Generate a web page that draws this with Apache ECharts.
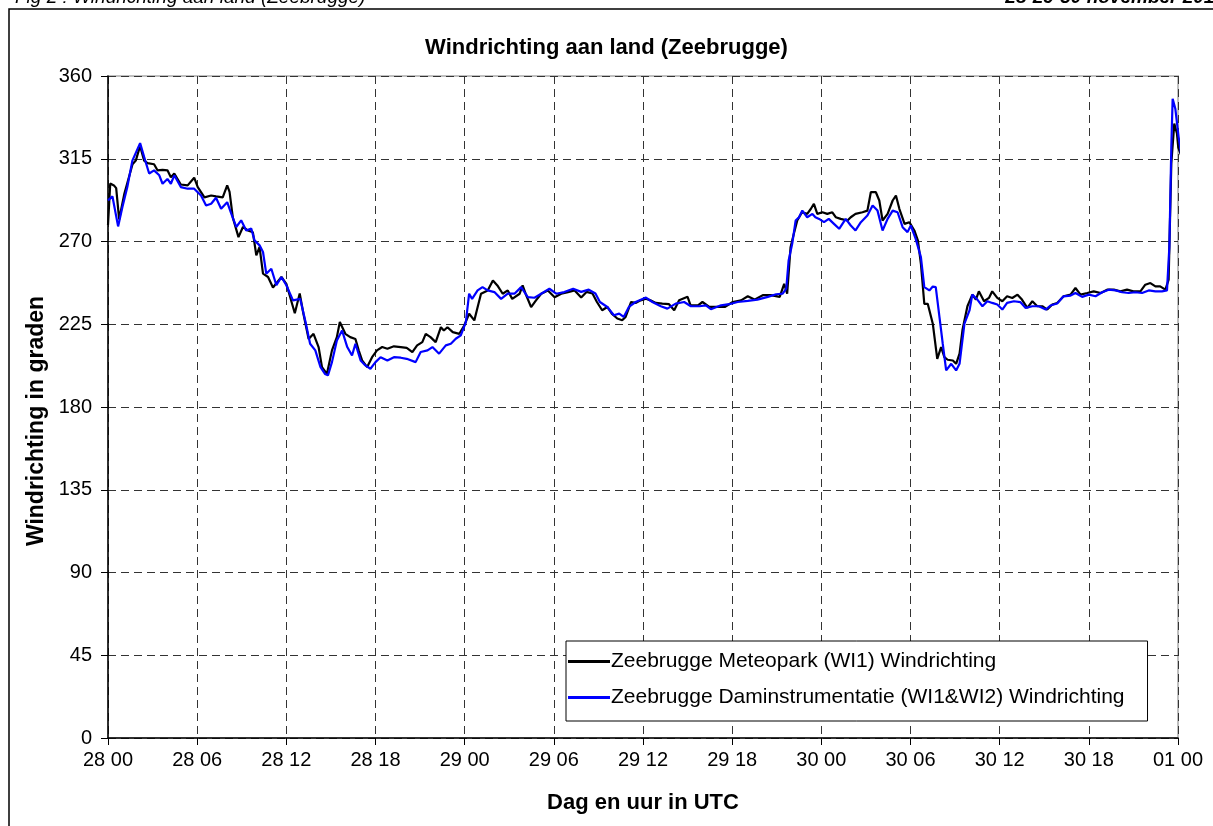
<!DOCTYPE html>
<html>
<head>
<meta charset="utf-8">
<script src="https://cdn.jsdelivr.net/npm/echarts@6/dist/echarts.min.js"></script>
<style>
html,body{margin:0;padding:0;background:#fff;}
#chart{width:1213px;height:826px;}
</style>
</head>
<body>
<div id="chart"></div>
<script>
// Tick labels (every 6 hours from 28 00 to 01 00)
const tickLabels = ['28 00','28 06','28 12','28 18','29 00','29 06','29 12','29 18','30 00','30 06','30 12','30 18','01 00'];
const seriesNames = ['Zeebrugge Meteopark (WI1) Windrichting','Zeebrugge Daminstrumentatie (WI1&WI2) Windrichting'];

// Black series: hours since 28 00 and wind direction (degrees)
const meteoHours = [0,0.15,0.4,0.55,0.75,1.1,1.65,1.87,2.16,2.43,2.66,3.1,3.33,3.67,4.0,4.23,4.46,4.9,5.36,5.8,6.04,6.49,6.94,7.27,7.72,8.02,8.18,8.4,8.78,9.08,9.41,9.75,9.98,10.2,10.43,10.77,11.1,11.67,12.0,12.57,12.9,13.15,13.5,13.83,14.17,14.4,14.73,15.07,15.4,15.6,15.97,16.3,16.65,16.87,17.1,17.44,17.77,18.1,18.45,18.8,19.24,19.7,20.1,20.48,20.8,21.15,21.38,21.7,22.05,22.4,22.6,22.84,23.2,23.64,23.97,24.3,24.65,24.87,25.1,25.55,25.9,26.2,26.56,26.9,27.2,27.7,27.9,28.1,28.47,28.8,29.15,29.6,30.05,30.5,30.95,31.4,31.84,32.2,32.6,32.9,33.25,33.6,33.9,34.27,34.6,34.83,35.2,35.5,35.84,36.2,36.5,36.86,37.3,37.75,38.1,38.43,39.0,39.2,39.7,40.0,40.46,40.9,41.5,42.04,42.6,43.05,43.5,44.06,44.6,45.2,45.5,45.7,45.93,46.15,46.38,46.7,47.05,47.3,47.5,47.73,48.07,48.4,48.74,48.97,49.3,49.76,49.98,50.3,50.77,51.1,51.33,51.67,51.9,52.12,52.46,52.8,53.02,53.25,53.6,53.92,54.26,54.5,54.7,54.93,55.16,55.5,55.8,56.06,56.28,56.5,56.85,57.07,57.3,57.5,57.83,58.16,58.4,58.6,58.95,59.28,59.5,59.84,60.18,60.5,60.85,61.2,61.5,61.86,62.2,62.53,62.87,63.2,63.54,63.87,64.3,64.77,65.1,65.44,65.9,66.33,66.8,67.23,67.68,68.13,68.57,69.0,69.47,69.8,70.14,70.48,70.8,71.15,71.37,71.55,71.75,71.93,72.02,72.25];
const meteoValues = [279,301.5,300.5,299,282,296,312,314,322,314,312.6,312,308.7,309,308.7,305,307,301,300.5,304.7,299.6,294,295,294.5,294,300.5,297,283,272.4,277.9,276,275,262.5,267,252.5,250.7,245,250.7,247,231,241.7,230.7,217,219.8,212.6,201.7,198,210.8,218,226.2,219.8,218,217,210.8,205.3,201.7,207.1,210.8,212.6,211.7,213,212.6,212.2,209.9,213.5,215.3,219.8,218,215.3,223.4,221.6,223.4,220.7,219.8,224.3,230.7,227.1,234.3,241.6,243.4,248.8,246.1,241.6,243.4,238.8,241.6,246.1,241.6,234.3,238,241.6,243.4,239.7,241.6,242.5,243.4,239.5,242.6,241.7,237.1,232.6,234.4,230.8,228.1,227.2,229,237.1,236.6,238,238.9,238,236.6,236.2,235.9,232.6,238,239.9,235.3,235.3,237.1,234.4,234.4,234.4,237.1,238,240.2,238.4,240.8,240.8,239.9,247,241.6,266.9,274.2,281.4,285.9,285,287.8,290.5,285,285.9,285,285.9,283.2,282.3,281.4,283.2,285,285.9,286.8,296.8,296.8,292.3,281.4,285,292.3,295,287.8,279.6,280.5,276,270.5,257.9,236.1,236.1,225.3,206.2,212.6,207.1,205.7,205.3,203.5,209,222,234.8,241.1,238.4,242.9,237.5,239.3,242.9,239.3,237.5,240.2,239.3,241.1,238.4,233.9,237.5,234.8,234.8,233,235.7,236.6,240.2,241.1,244.7,241.1,242,242.9,242,243.8,243.8,242.9,243.8,242.9,242.9,246.5,247.4,245.6,245.6,243.8,249.2,312.4,334.1,328.7,321,316];

// Blue series
const damHours = [0,0.3,0.68,0.97,1.3,1.64,2.16,2.43,2.77,3.1,3.45,3.67,4.0,4.23,4.46,4.9,5.36,5.8,6.26,6.6,6.94,7.27,7.61,8.02,8.3,8.63,8.96,9.3,9.64,9.86,10.2,10.43,10.65,10.99,11.33,11.67,12.0,12.45,12.93,13.27,13.6,13.95,14.3,14.6,14.8,15.07,15.4,15.75,16.1,16.42,16.65,17.0,17.32,17.66,18.0,18.34,18.8,19.24,19.7,20.1,20.7,21.04,21.5,21.83,22.28,22.73,23.07,23.4,23.74,24.08,24.3,24.5,24.87,25.2,25.55,26.0,26.45,26.9,27.35,27.8,28.25,28.7,29.15,29.7,30.16,30.7,31.3,31.84,32.35,32.8,33.1,33.6,34.04,34.4,34.7,35.05,35.5,36.2,36.63,37.2,37.64,38.2,38.77,39.22,39.8,40.23,40.57,41.25,41.8,42.37,43.05,43.7,44.4,44.96,45.4,45.64,45.8,46.04,46.27,46.5,46.72,47.05,47.4,47.6,47.85,48.18,48.5,48.85,49.2,49.64,49.98,50.3,50.66,51.1,51.45,51.78,52.12,52.46,52.8,53.13,53.47,53.8,54.02,54.35,54.7,54.93,55.27,55.5,55.7,55.95,56.17,56.4,56.74,57.07,57.3,57.63,57.97,58.16,58.5,58.84,59.17,59.5,59.84,60.18,60.5,60.96,61.4,61.75,62.2,62.64,63.1,63.42,63.87,64.3,64.77,65.1,65.55,66.0,66.45,66.9,67.34,67.8,68.24,68.68,69.13,69.58,70.03,70.48,70.92,71.26,71.42,71.55,71.64,71.82,72.04,72.27];
const damValues = [292.4,294.5,278.2,288.7,299.6,314,323.5,316,307,308.7,306,301.4,304,301.4,306,299.6,298.7,298.7,295,289.6,290.5,293.8,287.8,291.4,285,277.9,281.5,276,277,270.6,267.9,264.3,252.5,255.2,246.2,250.7,246.2,238,238.8,227.1,214.4,210.8,201.7,198,197.2,204.4,216.2,221.6,212.6,208,214.4,205.3,202.6,200.8,204.4,207.1,205.3,207.1,206.8,206.2,204.4,209.9,210.8,212.6,209,213.5,214.4,217.1,219,226.2,241.6,238.8,243.4,245.2,243.4,242.5,238.8,241.6,241.6,245.2,239.7,239.4,241.6,244.3,241.6,242.5,244.3,242.6,243.8,241.7,237.1,234.4,229.9,230.8,229,234.4,237.1,239.5,237.1,234.8,233.5,236.2,237.1,234.8,234.8,235.3,233.2,235.3,235.9,237.1,237.7,238.4,239.9,241.3,241.7,244.4,259.7,268.7,281.4,283.2,286.8,283.2,285,283.2,282.3,280.5,282.3,279.6,276.9,282.3,278.7,276,280.5,284.1,289.6,286.8,276,282.3,286.8,285.9,277.8,275.1,278.7,271.4,261.5,245.2,243.4,245.5,245.2,228.9,214.4,199.9,203.5,199.9,203.5,225.3,232.5,241.1,238.4,234.8,237.5,236.6,235.7,233,236.6,237.5,237,233.9,234.8,234.8,233,235.2,236.3,240.2,240.6,242,239.9,241.1,240.2,242.4,243.8,243.4,242.4,242,242.4,242,243.4,242.9,242.9,243.4,267.3,321.4,347.6,342.2,326.9,314.2];

const zip = (h, v) => h.map((x, i) => [x, v[i]]);
const FONT = 'Arial, "Liberation Sans", sans-serif';

const chart = echarts.init(document.getElementById('chart'), null, {renderer: 'canvas'});
chart.setOption({
  backgroundColor: '#ffffff',
  animation: false,
  title: {
    text: 'Windrichting aan land (Zeebrugge)',
    left: 'center', top: 32,
    textStyle: {fontFamily: FONT, fontSize: 22, fontWeight: 'bold', color: '#000'}
  },
  graphic: [
    {type: 'rect', shape: {x: 9, y: 9, width: 1230, height: 840}, style: {fill: 'none', stroke: '#000', lineWidth: 1.5}, z: 100},
    {type: 'text', left: 15, top: -12, style: {text: 'Fig 2 : Windrichting aan land (Zeebrugge)', font: 'italic 19px Arial, "Liberation Sans", sans-serif', fill: '#000'}},
    {type: 'text', right: -12, top: -12, style: {text: '28-29-30 november 2010', font: 'italic bold 19px Arial, "Liberation Sans", sans-serif', fill: '#000'}},
    {type: 'text', x: 37, y: 421, rotation: Math.PI / 2, z: 50,
      style: {text: 'Windrichting in graden', align: 'center', verticalAlign: 'middle',
        font: 'bold 23px Arial, "Liberation Sans", sans-serif', fill: '#000'}}
  ],
  grid: {left: 108, right: 35, top: 76, bottom: 88, show: true, borderColor: '#c0c0c0', borderWidth: 2, backgroundColor: '#fff'},
  legend: {
    orient: 'vertical', left: 566, top: 641,
    backgroundColor: '#fff', borderColor: '#000', borderWidth: 1,
    padding: [10, 23, 13, 2], itemGap: 15, itemWidth: 42, itemHeight: 3,
    icon: 'rect',
    textStyle: {fontFamily: FONT, fontSize: 21, color: '#000', padding: [0, 0, 0, -4]},
    data: seriesNames
  },
  xAxis: {
    type: 'value', min: 0, max: 72, interval: 6,
    axisLine: {show: true, lineStyle: {color: '#000', width: 1.5}},
    axisTick: {show: true, length: 7, inside: false, lineStyle: {color: '#000'}},
    axisLabel: {fontFamily: FONT, fontSize: 20, color: '#000', margin: 12,
      formatter: v => tickLabels[Math.round(v / 6)] || ''},
    splitLine: {show: true, lineStyle: {color: '#333', type: [8, 5], width: 1}},
    name: 'Dag en uur in UTC', nameLocation: 'middle', nameGap: 54,
    nameTextStyle: {fontFamily: FONT, fontSize: 22, fontWeight: 'bold', color: '#000'}
  },
  yAxis: {
    type: 'value', min: 0, max: 360, interval: 45,
    axisLine: {show: true, lineStyle: {color: '#000', width: 1.5}},
    axisTick: {show: true, length: 7, inside: false, lineStyle: {color: '#000'}},
    axisLabel: {fontFamily: FONT, fontSize: 20, color: '#000', margin: 16},
    splitLine: {show: true, lineStyle: {color: '#333', type: [8, 5], width: 1}}
  },
  series: [
    {name: seriesNames[0], type: 'line', data: zip(meteoHours, meteoValues), showSymbol: false, clip: false,
      lineStyle: {color: '#000000', width: 2.2}, itemStyle: {color: '#000000'}, z: 2},
    {name: seriesNames[1], type: 'line', data: zip(damHours, damValues), showSymbol: false, clip: false,
      lineStyle: {color: '#0000ff', width: 2.2}, itemStyle: {color: '#0000ff'}, z: 3}
  ]
});
</script>
</body>
</html>
